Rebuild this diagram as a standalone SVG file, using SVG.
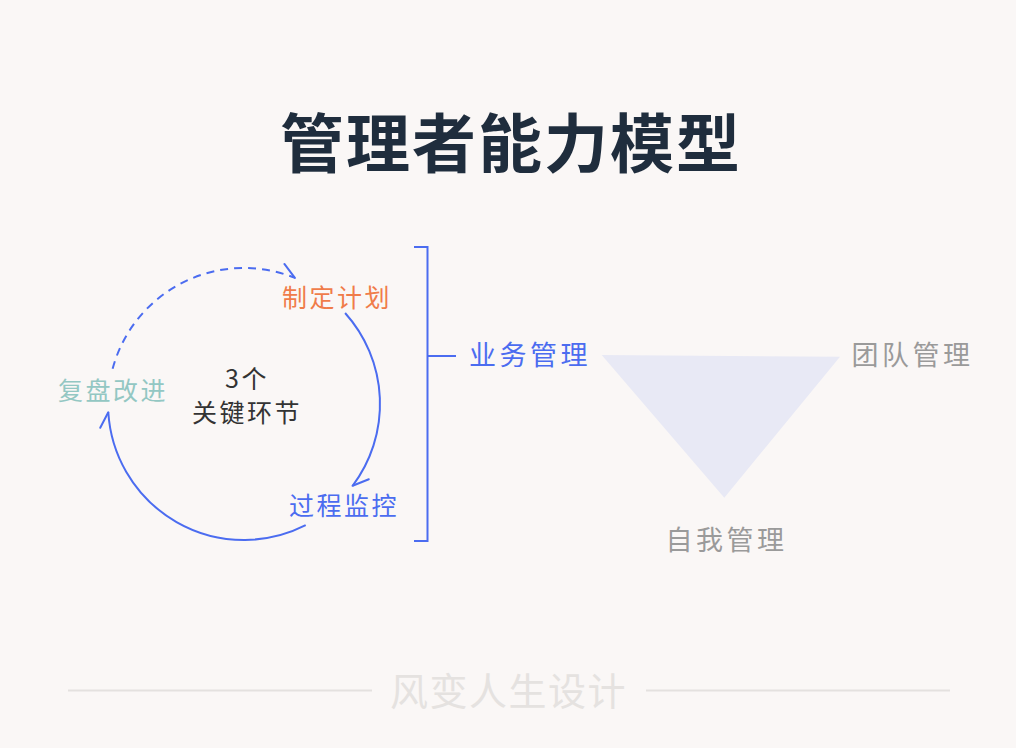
<svg xmlns="http://www.w3.org/2000/svg" width="1016" height="748" viewBox="0 0 1016 748">
<style>
text{font-family:"Noto Sans CJK SC","Noto Sans",sans-serif;}
.t{font-size:64px;font-weight:700;fill:#1f2d3d;letter-spacing:2px;}
.lab{font-size:25px;letter-spacing:2.5px;}
.big{font-size:27px;letter-spacing:3.5px;}
.blue{fill:#4b6cf0;}
.gray{fill:#9a9a9a;}
.ln{fill:none;stroke:#4b6cf0;stroke-width:2;}
.foot{stroke:#e4e1df;stroke-width:2;}
</style>
<defs>
<marker id="half" markerUnits="userSpaceOnUse" markerWidth="40" markerHeight="40" refX="0" refY="0" viewBox="-20 -20 40 40" orient="auto" overflow="visible">
<path d="M0,0 L-15,-9" fill="none" stroke="#4b6cf0" stroke-width="2" stroke-linecap="round"/>
</marker>
</defs>
<rect width="1016" height="748" fill="#faf7f6"/>
<g id="title"><text class="t" x="280" y="167">管理者能力模型</text></g>
<g id="connectors">
<path class="ln" stroke-dasharray="8 6" d="M112.6,368.8 A136,136 0 0 1 294.9,277.9" marker-end="url(#half)"/>
<path class="ln" d="M345.1,313 A136,136 0 0 1 352.6,485.8" marker-end="url(#half)"/>
<path class="ln" d="M305.7,525.2 A136,136 0 0 1 108.3,412.3" marker-end="url(#half)"/>
<path class="ln" d="M414,247 H427.5 V541 H414 M427.5,356 H456"/>
</g>
<g id="node-plan"><text class="lab" x="282" y="307" fill="#f07c4a">制定计划</text></g>
<g id="node-monitor"><text class="lab blue" x="289" y="515">过程监控</text></g>
<g id="node-review"><text class="lab" x="58" y="400" fill="#93c7c3">复盘改进</text></g>
<g id="node-center"><text class="lab" x="225" y="388" fill="#333" font-size="23">3个</text><text class="lab" x="192" y="422" fill="#333">关键环节</text></g>
<g id="node-business"><text class="big blue" x="469" y="365">业务管理</text></g>
<g id="node-triangle"><polygon points="601.7,355 840,356.7 724.3,497.7" fill="#e8e9f5"/></g>
<g id="node-team"><text class="big gray" x="851.5" y="364.5">团队管理</text></g>
<g id="node-self"><text class="big gray" x="665.5" y="550">自我管理</text></g>
<g id="footer">
<line class="foot" x1="68" y1="690.5" x2="372" y2="690.5"/>
<line class="foot" x1="646" y1="690.5" x2="950" y2="690.5"/>
<text x="390" y="705" font-size="38" letter-spacing="1.5" fill="#e5e2e0">风变人生设计</text>
</g>
</svg>
